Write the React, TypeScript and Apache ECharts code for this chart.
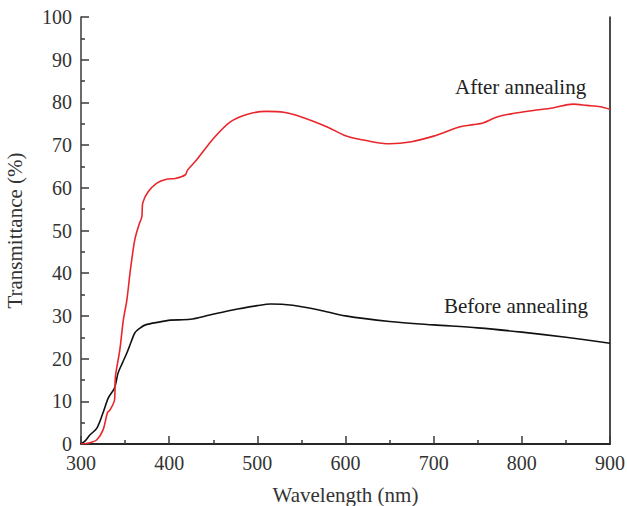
import React, { useEffect, useRef } from "react";
import * as echarts from "echarts";

const wavelengthsAfter = [300, 310, 318, 325, 330, 333, 338, 339, 344, 348, 352, 356, 361, 366, 369, 370, 376, 386, 397, 407, 418, 421, 431, 450, 469, 490, 510, 530, 550, 580, 600, 625, 650, 675, 700, 730, 745, 756, 772, 790, 813, 835, 858, 874, 889, 900];
const after = [0, 0.3, 1, 3.3, 7.3, 8, 10.3, 15.7, 22, 29, 33.7, 40.7, 47.8, 51.5, 53.2, 56.4, 59, 61.1, 62, 62.2, 63, 64.2, 66.5, 71.5, 75.4, 77.3, 77.9, 77.7, 76.6, 74.2, 72.2, 71, 70.3, 70.8, 72.1, 74.3, 74.8, 75.2, 76.6, 77.4, 78.1, 78.7, 79.6, 79.3, 79, 78.4];

const wavelengthsBefore = [300, 305, 310, 318, 325, 331, 338, 342, 347, 352, 357, 361, 366, 373, 390, 401, 424, 446, 472, 500, 515, 540, 570, 600, 650, 700, 750, 800, 850, 900];
const before = [0, 0.8, 2.1, 3.7, 7.3, 10.8, 13.1, 16.6, 19, 21.3, 24, 26, 27, 27.9, 28.6, 29, 29.2, 30.2, 31.4, 32.4, 32.8, 32.5, 31.4, 30, 28.7, 27.9, 27.2, 26.2, 25, 23.6];

const xTicks = [300, 400, 500, 600, 700, 800, 900];
const yTicks = [0, 10, 20, 30, 40, 50, 60, 70, 80, 90, 100];

const FONT = "Liberation Serif";

export default function App() {
  const ref = useRef<HTMLDivElement>(null);
  useEffect(() => {
    const chart = echarts.init(ref.current!, null, { renderer: "svg" });
    const axisCommon = {
      axisLine: { show: true, lineStyle: { color: "#3a3a3a", width: 1.5 } },
      axisTick: { show: true, inside: true, length: 8, lineStyle: { color: "#3a3a3a", width: 1.5 } },
      minorTick: { show: true, splitNumber: 2, length: 4, lineStyle: { color: "#3a3a3a", width: 1.5 } },
      splitLine: { show: false },
      axisLabel: { color: "#333", fontFamily: FONT, fontSize: 20 },
    };
    chart.setOption({
      animation: false,
      backgroundColor: "#fff",
      grid: { left: 81, right: 17, top: 17, bottom: 62, containLabel: false, outerBoundsMode: "none" },
      xAxis: [
        {
          type: "value",
          min: xTicks[0],
          max: xTicks[xTicks.length - 1],
          interval: 100,
          ...axisCommon,
          axisLabel: { ...axisCommon.axisLabel, margin: 9 },
          name: "Wavelength (nm)",
          nameLocation: "middle",
          nameGap: 40,
          nameTextStyle: { color: "#333", fontFamily: FONT, fontSize: 21 },
        },
        {
          type: "value",
          position: "top",
          min: xTicks[0],
          max: xTicks[xTicks.length - 1],
          axisLine: { show: true, lineStyle: { color: "#111", width: 1.5 } },
          axisTick: { show: false },
          axisLabel: { show: false },
          splitLine: { show: false },
        },
      ],
      yAxis: [
        {
          type: "value",
          min: yTicks[0],
          max: yTicks[yTicks.length - 1],
          interval: 10,
          ...axisCommon,
          axisLabel: { ...axisCommon.axisLabel, margin: 9 },
          name: "Transmittance (%)",
          nameLocation: "middle",
          nameGap: 56,
          nameTextStyle: { color: "#333", fontFamily: FONT, fontSize: 21 },
        },
        {
          type: "value",
          position: "right",
          min: yTicks[0],
          max: yTicks[yTicks.length - 1],
          axisLine: { show: true, lineStyle: { color: "#111", width: 1.5 } },
          axisTick: { show: false },
          axisLabel: { show: false },
          splitLine: { show: false },
        },
      ],
      series: [
        {
          type: "line",
          name: "After annealing",
          data: wavelengthsAfter.map((w, i) => [w, after[i]]),
          smooth: 0.3,
          showSymbol: false,
          lineStyle: { color: "#e8262b", width: 1.6 },
          z: 3,
        },
        {
          type: "line",
          name: "Before annealing",
          data: wavelengthsBefore.map((w, i) => [w, before[i]]),
          smooth: 0.3,
          showSymbol: false,
          lineStyle: { color: "#111", width: 1.6 },
          z: 2,
        },
      ],
      graphic: [
        {
          type: "text",
          left: 455,
          top: 76,
          style: { text: "After annealing", fontFamily: FONT, fontSize: 21, fill: "#222" },
        },
        {
          type: "text",
          left: 444,
          top: 295,
          style: { text: "Before annealing", fontFamily: FONT, fontSize: 21, fill: "#222" },
        },
      ],
    });
    return () => chart.dispose();
  }, []);
  return <div ref={ref} style={{ width: 627, height: 506, position: "absolute", left: 0, top: 0 }} />;
}
